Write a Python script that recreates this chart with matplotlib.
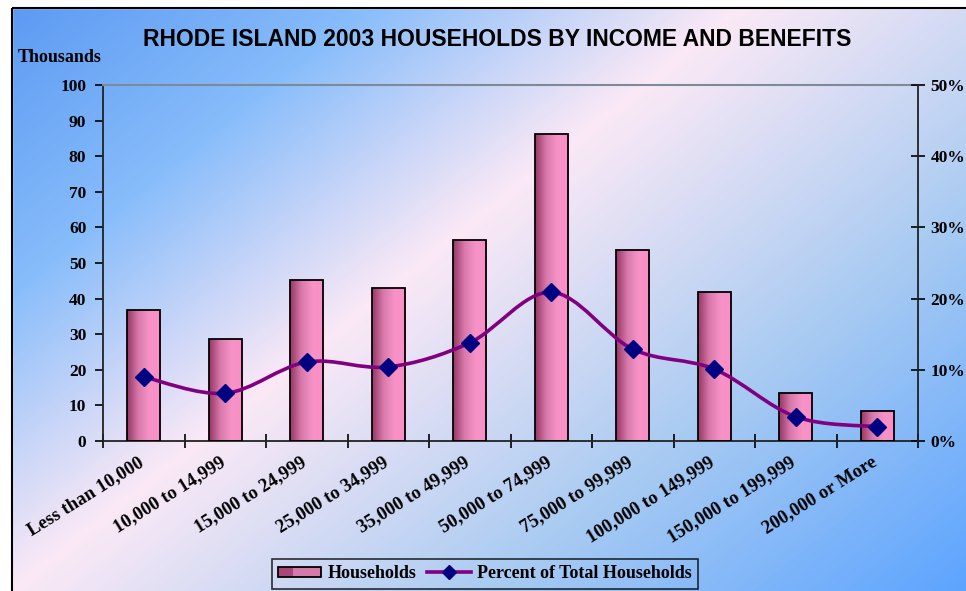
import numpy as np
import matplotlib
matplotlib.use('Agg')
import matplotlib.pyplot as plt
import matplotlib.transforms as mtransforms
from matplotlib.colors import LinearSegmentedColormap
from matplotlib.path import Path
from matplotlib.patches import PathPatch, Rectangle
from matplotlib.lines import Line2D
from matplotlib.legend_handler import HandlerBase

categories = ['Less than 10,000', '10,000 to 14,999', '15,000 to 24,999',
              '25,000 to 34,999', '35,000 to 49,999', '50,000 to 74,999',
              '75,000 to 99,999', '100,000 to 149,999', '150,000 to 199,999',
              '200,000 or More']
households = [36.8, 28.6, 45.2, 43.0, 56.5, 86.2, 53.7, 41.9, 13.5, 8.4]   # thousands
percent = [9.0, 6.7, 11.1, 10.4, 13.8, 20.9, 12.9, 10.1, 3.4, 2.0]        # % of total

left_ticks = [0, 10, 20, 30, 40, 50, 60, 70, 80, 90, 100]
right_ticks = [0, 10, 20, 30, 40, 50]

serif = 'Liberation Serif'
sans = 'Liberation Sans'

fig = plt.figure(figsize=(9.66, 5.91), dpi=100)

# background: diagonal blue / pink / blue gradient, inside a black frame
bg = fig.add_axes([0, 0, 1, 1], zorder=-10)
bg.set_axis_off()
W, H = 966, 591
xx, yy = np.meshgrid(np.arange(W), np.arange(H))
t = (xx + 1.25 * yy) / (W + 1.25 * H)
bg_cmap = LinearSegmentedColormap.from_list(
    'bg', [(0.0, '#5a98f2'), (0.22, '#88bdfb'), (0.44, '#fbe9f6'),
           (0.72, '#a9cbf2'), (1.0, '#5da4ff')])
bg.imshow(t, cmap=bg_cmap, extent=(0, W, H, 0), aspect='auto', interpolation='bilinear')
bg.set_xlim(0, W)
bg.set_ylim(H, 0)
bg.add_patch(Rectangle((0, 0), 12, H, color='white', zorder=3))
bg.add_patch(Rectangle((0, 0), W, 8, color='white', zorder=3))
bg.add_patch(Rectangle((12, 8), W + 10, H + 10, fill=False, ec='black', lw=1.5, zorder=4))

ax = fig.add_axes([103 / W, 1 - 441 / H, (918 - 103) / W, (441 - 85) / H])
ax.patch.set_alpha(0)
x = np.arange(len(categories))

bars = ax.bar(x, households, width=0.41, facecolor='none', edgecolor='black', linewidth=1.3, zorder=3)
bar_cmap = LinearSegmentedColormap.from_list('bar', ['#983766', '#d879ab', '#f792c7', '#f98fc6'])
grad = np.linspace(0, 1, 64).reshape(1, -1)
for b in bars:
    x0, w, h = b.get_x(), b.get_width(), b.get_height()
    im = ax.imshow(grad, cmap=bar_cmap, extent=(x0, x0 + w, 0, h), aspect='auto', zorder=2)
    im.set_clip_path(b)

ax.set_xlim(-0.5, len(categories) - 0.5)
ax.set_ylim(0, 100)
ax.set_yticks(left_ticks)
ax.set_yticklabels([str(v) for v in left_ticks], fontfamily=serif, fontweight='bold', fontsize=12.5)
ax.tick_params(axis='y', direction='out', length=6, width=1.2, pad=6)

ax.set_xticks(np.arange(len(categories) + 1) - 0.5)
ax.set_xticklabels([])
ax.tick_params(axis='x', which='major', direction='inout', length=10, width=1.2)
ax.set_xticks(x, minor=True)
ax.set_xticklabels(categories, minor=True, rotation=32, ha='right', va='top', rotation_mode='anchor',
                   fontfamily=serif, fontweight='bold', fontsize=13.5)
ax.tick_params(axis='x', which='minor', length=0, pad=9)
shift = mtransforms.ScaledTranslation(-6 / 100, 0, fig.dpi_scale_trans)
for lab in ax.get_xticklabels(minor=True):
    lab.set_transform(lab.get_transform() + shift)

for s in ['left', 'bottom']:
    ax.spines[s].set_linewidth(1.3)
    ax.spines[s].set_color('#222222')
ax.spines['top'].set_color('#7f8a98')
ax.spines['top'].set_linewidth(1.5)
ax.spines['right'].set_visible(False)

ax2 = ax.twinx()
ax2.set_ylim(0, 50)
ax2.set_yticks(right_ticks)
ax2.set_yticklabels(['%d%%' % v for v in right_ticks], fontfamily=serif, fontweight='bold', fontsize=12.5)
ax2.tick_params(axis='y', direction='inout', length=10, width=1.2, pad=4)
ax2.spines['right'].set_linewidth(1.3)
ax2.spines['right'].set_color('#222222')
for s in ['left', 'top', 'bottom']:
    ax2.spines[s].set_visible(False)

# smoothed line (Catmull-Rom style Bezier through the data points, like Excel smoothing)
px = np.asarray(x, dtype=float)
py = np.asarray(percent, dtype=float)
verts = [(px[0], py[0])]
codes = [Path.MOVETO]
n = len(px)
for i in range(n - 1):
    p0 = (px[max(i - 1, 0)], py[max(i - 1, 0)])
    p1 = (px[i], py[i])
    p2 = (px[i + 1], py[i + 1])
    p3 = (px[min(i + 2, n - 1)], py[min(i + 2, n - 1)])
    c1 = (p1[0] + (p2[0] - p0[0]) / 6, p1[1] + (p2[1] - p0[1]) / 6)
    c2 = (p2[0] - (p3[0] - p1[0]) / 6, p2[1] - (p3[1] - p1[1]) / 6)
    verts += [c1, c2, p2]
    codes += [Path.CURVE4] * 3
ax2.add_patch(PathPatch(Path(verts, codes), fill=False, ec='#800080', lw=2.6, zorder=3))
ax2.plot(px, py, linestyle='none', marker='D', markersize=9.5, color='#000080', zorder=4)

fig.text(497 / W, 1 - 40 / H, 'RHODE ISLAND 2003 HOUSEHOLDS BY INCOME AND BENEFITS',
         ha='center', va='center', fontfamily=sans, fontweight='bold', fontsize=16.5)
fig.text(18 / W, 1 - 57 / H, 'Thousands', ha='left', va='center',
         fontfamily=serif, fontweight='bold', fontsize=13)


class GradientBoxHandler(HandlerBase):
    def create_artists(self, legend, orig_handle, xdescent, ydescent, width, height, fontsize, trans):
        r = Rectangle((-xdescent, -ydescent + 1), width, height - 2, facecolor='none',
                      edgecolor='black', lw=1.3, transform=trans)
        im = legend.axes if False else None
        fill = Rectangle((-xdescent, -ydescent + 1), width, height - 2, facecolor='#d579a8',
                         edgecolor='none', transform=trans)
        dark = Rectangle((-xdescent, -ydescent + 1), width * 0.35, height - 2, facecolor='#a84677',
                         edgecolor='none', transform=trans)
        return [fill, dark, r]


bar_handle = Rectangle((0, 0), 1, 1)
line_handle = Line2D([], [], color='#800080', lw=2.6, marker='D', markersize=7,
                     markerfacecolor='#000080', markeredgecolor='#000080')
leg = fig.legend([bar_handle, line_handle], ['Households', 'Percent of Total Households'],
                 handler_map={Rectangle: GradientBoxHandler()},
                 loc='center', bbox_to_anchor=(485 / W, 1 - 574 / H), ncol=2,
                 prop={'family': serif, 'weight': 'bold', 'size': 13},
                 frameon=True, fancybox=False, edgecolor='black', facecolor='none',
                 handlelength=2.4, handletextpad=0.35, columnspacing=0.6, borderpad=0.35)
leg.get_frame().set_linewidth(1.2)

fig.savefig('out.png', dpi=100)
